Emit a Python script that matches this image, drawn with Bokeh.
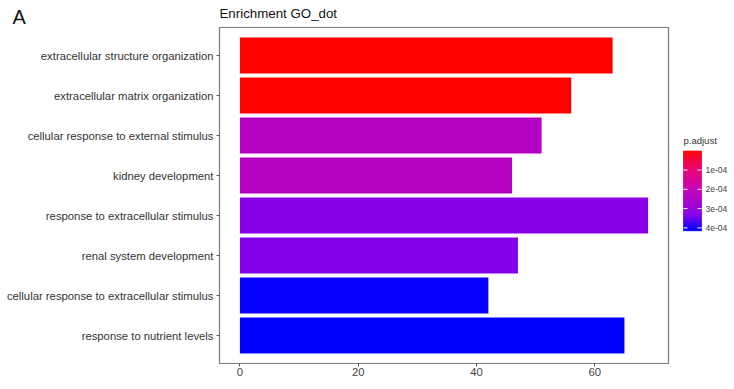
import numpy as np
from bokeh.plotting import figure
from bokeh.layouts import row, column
from bokeh.core.properties import value
from bokeh.models import ColumnDataSource, FactorRange, Range1d, LinearColorMapper, FixedTicker
from bokeh.embed import file_html
from bokeh.resources import INLINE

# GO enrichment results (top to bottom as displayed)
terms = [
    "extracellular structure organization",
    "extracellular matrix organization",
    "cellular response to external stimulus",
    "kidney development",
    "response to extracellular stimulus",
    "renal system development",
    "cellular response to extracellular stimulus",
    "response to nutrient levels",
]
counts = [63, 56, 51, 46, 69, 47, 42, 65]
p_adjust = [1.0e-6, 2.0e-6, 2.35e-4, 2.3e-4, 3.3e-4, 3.35e-4, 4.1e-4, 4.15e-4]
x_ticks = [0, 20, 40, 60]
cbar_ticks = [1e-4, 2e-4, 3e-4, 4e-4]
cbar_labels = ["1e-04", "2e-04", "3e-04", "4e-04"]

FONT = "Liberation Sans"
W, H = 734, 389
TOP_H = 27            # strip holding the panel tag and the title
BODY_H = H - TOP_H
MAIN_W = 670

# red -> purple -> blue gradient built from a few anchor colours
anchor_pos = [0.0, 0.25, 0.5, 0.8, 1.0]
anchor_rgb = [(255, 0, 0), (232, 0, 120), (192, 0, 182), (136, 0, 232), (0, 0, 255)]
_t = np.linspace(0, 1, 256)
_chan = [np.interp(_t, anchor_pos, [c[i] for c in anchor_rgb]) for i in range(3)]
palette = ["#%02x%02x%02x" % (int(round(r)), int(round(g)), int(round(b)))
           for r, g, b in zip(*_chan)]

lo, hi = min(p_adjust), max(p_adjust)
mapper = LinearColorMapper(palette=palette, low=lo, high=hi)

source = ColumnDataSource(dict(term=terms, count=counts, padj=p_adjust))


def bare(fig):
    fig.outline_line_color = None
    fig.xgrid.grid_line_color = None
    fig.ygrid.grid_line_color = None
    return fig


# ---------------- top strip: panel tag + title ----------------
top = bare(figure(frame_width=W, frame_height=TOP_H, title=None,
                  x_range=Range1d(0, W), y_range=Range1d(TOP_H, 0),
                  x_axis_type=None, y_axis_type=None, output_backend="svg",
                  toolbar_location=None, min_border=0))
top.text(x=[12], y=[16.5], text=["A"], text_font=value(FONT), text_font_size="20px",
         text_color="#111111", text_baseline="middle", text_align="left")
top.text(x=[219], y=[13], text=["Enrichment GO_dot"], text_font=value(FONT),
         text_font_size="13.3px", text_color="#111111",
         text_baseline="middle", text_align="left")

# ---------------- main bar panel ----------------
p = figure(
    width=MAIN_W, height=BODY_H, title=None,
    y_range=FactorRange(factors=terms[::-1], range_padding=0.2, range_padding_units="absolute"),
    x_range=Range1d(-3.45, 72.45),
    output_backend="svg", toolbar_location=None,
    min_border_left=219, min_border_top=0, min_border_bottom=26, min_border_right=2,
)

p.hbar(y="term", left=0, right="count", height=0.9, source=source,
       fill_color={"field": "padj", "transform": mapper}, line_color=None)

p.xgrid.grid_line_color = None
p.ygrid.grid_line_color = None
p.outline_line_color = "#7a7a7a"
p.outline_line_width = 1.2
p.background_fill_color = "white"

for ax in (p.xaxis[0], p.yaxis[0]):
    ax.axis_line_color = None
    ax.major_tick_line_color = "#555555"
    ax.major_tick_out = 3
    ax.major_tick_in = 0
    ax.minor_tick_line_color = None
    ax.major_label_text_font = FONT
    ax.major_label_text_font_size = "11.3px"
    ax.major_label_text_color = "#333333"
    ax.major_label_standoff = 3

p.xaxis.ticker = FixedTicker(ticks=x_ticks)
p.xaxis.major_label_text_color = "#444444"
p.xaxis.major_label_standoff = 1

# ---------------- colour legend ----------------
LEG_W = W - MAIN_W
bar_top_px, bar_bot_px = 160 - TOP_H, 246 - TOP_H   # colour bar extent within this strip
span = hi - lo
per_px = span / (bar_bot_px - bar_top_px)
y_top = lo - bar_top_px * per_px
y_bot = lo + (BODY_H - bar_top_px) * per_px

leg = bare(figure(width=LEG_W, height=BODY_H, title=None, x_range=Range1d(0, LEG_W),
                  y_range=Range1d(y_bot, y_top), x_axis_type=None, y_axis_type=None,
                  output_backend="svg", toolbar_location=None, min_border=0))

bar_l, bar_r = 13, 31
edges = np.linspace(lo, hi, 121)
mids = (edges[:-1] + edges[1:]) / 2
bin_cols = [palette[int(round((m - lo) / span * 255))] for m in mids]
leg.quad(left=bar_l, right=bar_r, bottom=edges[1:], top=edges[:-1],
         fill_color=bin_cols, line_color=bin_cols, line_width=0.6)

# white tick marks inside the bar on both sides
leg.segment(x0=[bar_l] * 4, x1=[bar_l + 4] * 4, y0=cbar_ticks, y1=cbar_ticks,
            line_color="white", line_width=1)
leg.segment(x0=[bar_r - 4] * 4, x1=[bar_r] * 4, y0=cbar_ticks, y1=cbar_ticks,
            line_color="white", line_width=1)

leg.text(x=[bar_r + 4] * 4, y=cbar_ticks, text=cbar_labels,
         text_font=value(FONT), text_font_size="8.5px", text_color="#444444",
         text_baseline="middle", text_align="left")

leg.text(x=[bar_l], y=[lo - 5 * per_px], text=["p.adjust"],
         text_font=value(FONT), text_font_size="9.5px", text_color="#333333",
         text_baseline="bottom", text_align="left")

layout = column(top, row(p, leg))
open("out.html", "w").write(file_html(layout, INLINE))
